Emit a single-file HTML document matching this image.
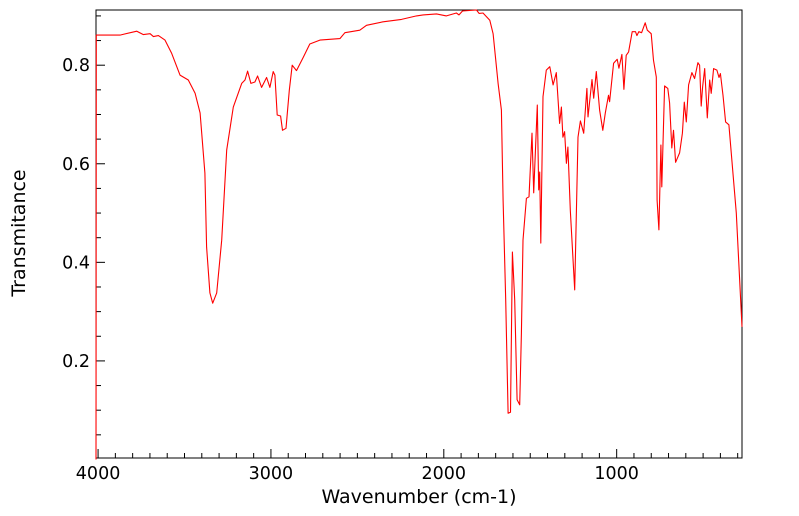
<!DOCTYPE html>
<html><head><meta charset="utf-8">
<style>
html,body{margin:0;padding:0;background:#fff;}
svg{display:block;font-family:"DejaVu Sans","Liberation Sans",sans-serif;}
</style></head>
<body>
<svg id="chart" width="799" height="516" viewBox="0 0 799 516" xmlns="http://www.w3.org/2000/svg">
<g id="axes"></g>
<path id="spectrum" fill="none" stroke="#ff0000" stroke-width="1.1" stroke-linejoin="round"/>
<text x="419" y="503" font-size="19" text-anchor="middle">Wavenumber (cm-1)</text>
<text x="0" y="0" font-size="19" text-anchor="middle" transform="translate(25,233) rotate(-90)">Transmitance</text>
</svg>
<script>
const wavenumbers=[4012,4010,3873,3776,3738,3699,3680,3651,3613,3574,3526,3478,3439,3410,3382,3372,3353,3337,3314,3285,3256,3218,3169,3150,3135,3116,3093,3077,3054,3025,3006,2987,2977,2964,2944,2933,2913,2894,2877,2852,2813,2775,2717,2601,2572,2486,2447,2351,2245,2158,2120,2042,1985,1927,1912,1892,1811,1796,1773,1734,1715,1686,1667,1657,1642,1628,1614,1603,1590,1576,1561,1551,1542,1522,1507,1490,1480,1459,1451,1445,1439,1426,1407,1387,1368,1349,1330,1320,1311,1301,1291,1282,1268,1243,1224,1210,1191,1172,1166,1143,1133,1118,1099,1080,1066,1047,1041,1018,997,987,970,958,945,931,910,891,883,872,856,835,823,800,787,771,766,756,744,739,723,704,694,681,671,659,636,620,609,597,584,565,549,530,520,511,503,491,476,462,453,439,420,408,400,385,370,351,318,308,275];
const transmittance=[0.0,0.861,0.861,0.869,0.862,0.864,0.858,0.860,0.851,0.824,0.780,0.770,0.743,0.703,0.581,0.431,0.338,0.317,0.338,0.445,0.628,0.715,0.763,0.770,0.788,0.763,0.766,0.778,0.755,0.775,0.755,0.787,0.780,0.699,0.697,0.668,0.672,0.749,0.800,0.789,0.816,0.843,0.851,0.854,0.866,0.871,0.881,0.888,0.893,0.900,0.902,0.904,0.900,0.906,0.902,0.910,0.912,0.905,0.906,0.891,0.864,0.763,0.709,0.526,0.324,0.094,0.096,0.421,0.324,0.121,0.111,0.256,0.445,0.530,0.533,0.662,0.541,0.719,0.547,0.583,0.439,0.736,0.790,0.797,0.760,0.785,0.682,0.715,0.654,0.665,0.601,0.634,0.506,0.344,0.654,0.687,0.662,0.753,0.695,0.771,0.733,0.787,0.709,0.668,0.703,0.739,0.726,0.804,0.812,0.794,0.822,0.751,0.820,0.827,0.868,0.868,0.860,0.868,0.866,0.886,0.871,0.864,0.810,0.776,0.526,0.466,0.638,0.553,0.758,0.753,0.723,0.632,0.668,0.603,0.622,0.662,0.725,0.685,0.760,0.785,0.773,0.805,0.800,0.717,0.756,0.793,0.693,0.770,0.743,0.793,0.790,0.775,0.783,0.739,0.685,0.679,0.541,0.500,0.269];
const xTickLabels=[4000,3000,2000,1000];
const yTickLabels=[0.2,0.4,0.6,0.8];

const L=96,R=742,T=10,B=458;
const xMax=4012,xMin=275,yMin=0.003,yMax=0.912;
const xs=v=>L+(xMax-v)/(xMax-xMin)*(R-L);
const ys=v=>B-(v-yMin)/(yMax-yMin)*(B-T);
const NS="http://www.w3.org/2000/svg";
const axes=document.getElementById('axes');
function mk(tag,attrs){const e=document.createElementNS(NS,tag);for(const k in attrs)e.setAttribute(k,attrs[k]);return e;}

const frame=mk('rect',{x:L,y:T,width:R-L,height:B-T,fill:'none',stroke:'#000','stroke-width':1});


axes.appendChild(frame);

for(let v=4000;v>=300;v-=100){
  const x=xs(v);const major=v%1000===0;
  const t=mk('line',{x1:x,x2:x,y1:B,y2:B-(major?9:5),stroke:'#000','stroke-width':1});
  
  
  axes.appendChild(t);
}
xTickLabels.forEach(v=>{
  const t=mk('text',{x:xs(v),y:479,'font-size':17.5,'text-anchor':'middle'});
  t.textContent=v;
  
  
  axes.appendChild(t);
});
for(let i=1;i<=18;i++){
  const v=i*0.05;const y=ys(v);if(y<T)continue;
  const major=i%4===0;
  const t=mk('line',{x1:L,x2:L+(major?9:5),y1:y,y2:y,stroke:'#000','stroke-width':1});
  
  
  axes.appendChild(t);
}
yTickLabels.forEach(v=>{
  const t=mk('text',{x:L-6,y:ys(v)+6,'font-size':17.5,'text-anchor':'end'});
  t.textContent=v.toFixed(1);
  
  
  axes.appendChild(t);
});

let d='';
wavenumbers.forEach((w,i)=>{d+=(i?'L':'M')+xs(w).toFixed(1)+' '+ys(transmittance[i]).toFixed(1);});
document.getElementById('spectrum').setAttribute('d',d);
</script>
</body></html>
